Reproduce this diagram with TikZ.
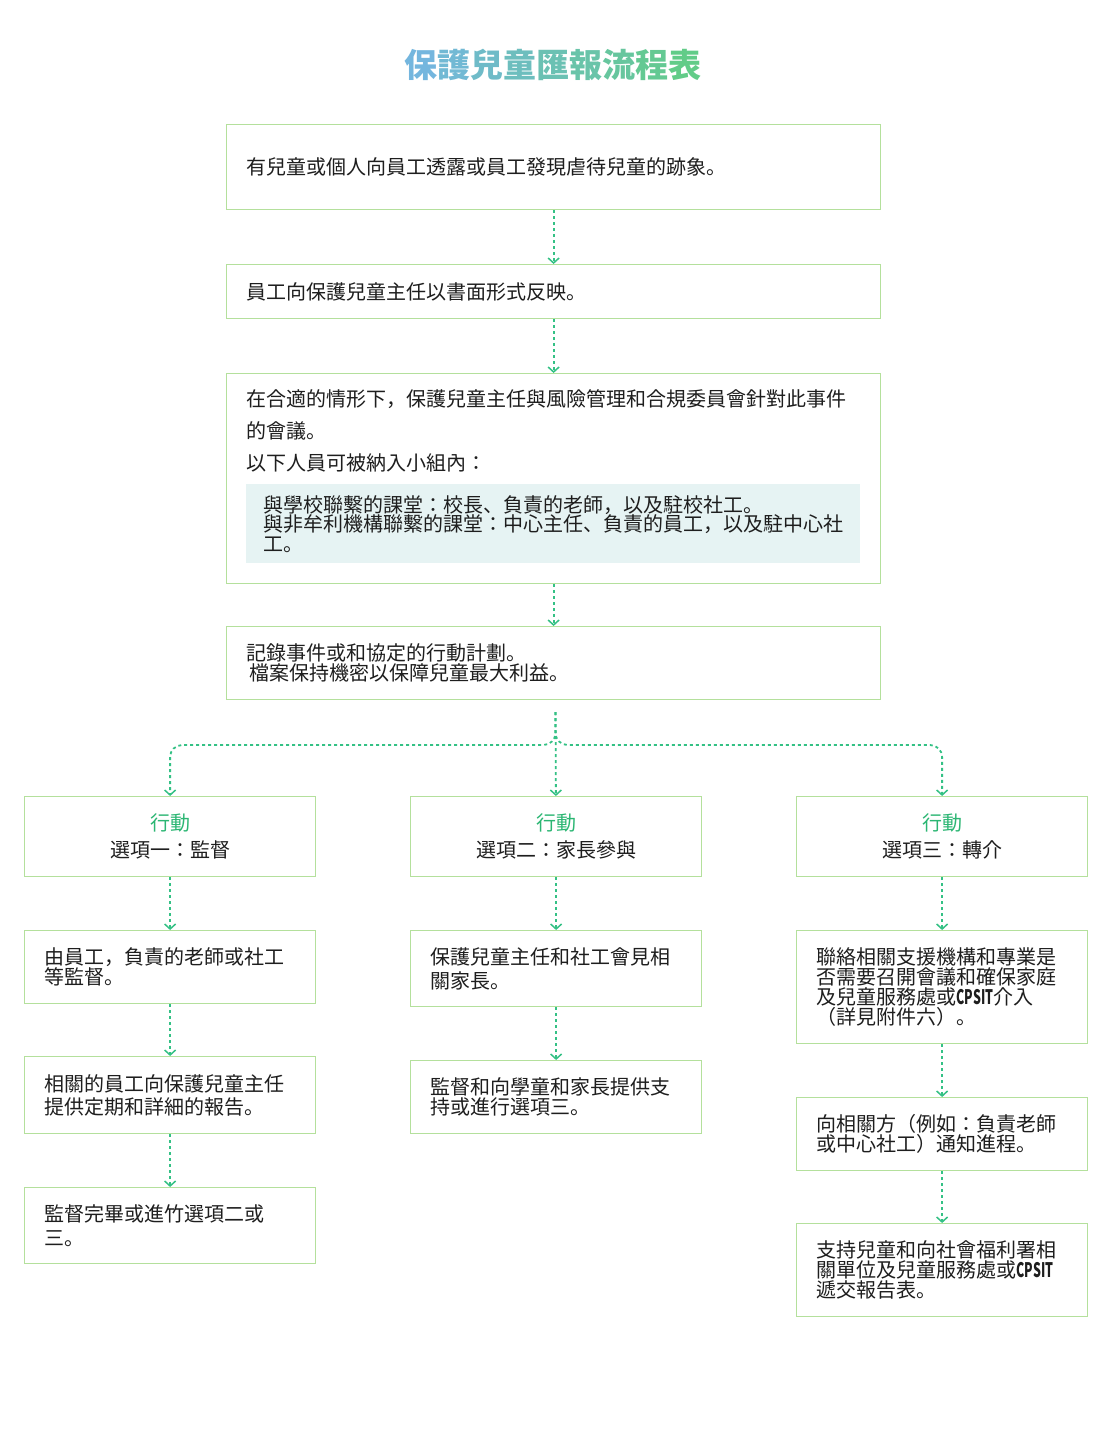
\documentclass[tikz,border=0pt]{standalone}
\usepackage{fontspec}
\setmainfont{Noto Sans CJK JP}
\usepackage{xcolor}
\usetikzlibrary{arrows.meta}
\definecolor{ink}{HTML}{1E1E1E}
\definecolor{boxline}{HTML}{B4E09C}
\definecolor{arrowgreen}{HTML}{34C185}
\definecolor{act}{HTML}{2BB673}
\definecolor{shade}{HTML}{E6F3F3}
\definecolor{titleA}{HTML}{74B6DE}
\definecolor{titleB}{HTML}{62CC88}
\newcommand\tchar[2]{\textcolor{titleB!#1!titleA}{#2}}
\newcommand\cpsit{\scalebox{0.62}[1]{\bfseries CPSIT}}
\tikzset{
  box/.style={draw=boxline, line width=1.2pt, anchor=north west, inner xsep=20pt, inner ysep=0pt,
    align=left, text=ink, font=\fontsize{20}{20}\selectfont},
  widebox/.style={box, text width=614pt},
  colbox/.style={box, text width=251pt},
  actbox/.style={colbox, align=center, minimum height=80pt, font=\fontsize{20}{27}\selectfont},
  shadebox/.style={fill=shade, anchor=north west, inner xsep=17pt, inner ysep=0pt, text width=580pt,
    minimum height=79pt, align=left, text=ink, font=\fontsize{20}{19.5}\selectfont},
  flowline/.style={draw=arrowgreen, line width=1.8pt, dash pattern=on 3pt off 3pt,
    -{Straight Barb[length=5pt,width=11pt,line width=1.5pt]}},
  titletext/.style={font=\fontsize{33}{33}\selectfont\bfseries}
}
\begin{document}
\begin{tikzpicture}[x=1pt,y=-1pt]
  \fill[white] (0,0) rectangle (1107,1440);
  \useasboundingbox (0,0) rectangle (1107,1440);

  \node[titletext] (title) at (553,65) {\tchar{0}{保}\tchar{12}{護}\tchar{25}{兒}\tchar{37}{童}\tchar{50}{匯}\tchar{62}{報}\tchar{75}{流}\tchar{87}{程}\tchar{100}{表}};

  % main steps
  \node[widebox, minimum height=85pt] (s1) at (226,124) {有兒童或個人向員工透露或員工發現虐待兒童的跡象。};
  \node[widebox, minimum height=54pt] (s2) at (226,264) {員工向保護兒童主任以書面形式反映。};
  \node[widebox, minimum height=210pt] (s3) at (226,373) {};
  \node[anchor=west, align=left, text=ink, inner sep=0pt, font=\fontsize{20}{32}\selectfont] (s3text) at (246,431)
    {在合適的情形下，保護兒童主任與風險管理和合規委員會針對此事件\\的會議。\\以下人員可被納入小組內：};
  \node[shadebox] (s3list) at (246,484)
    {與學校聯繫的課堂：校長、負責的老師，以及駐校社工。\\與非牟利機構聯繫的課堂：中心主任、負責的員工，以及駐中心社\\工。};
  \node[widebox, minimum height=73pt] (s4) at (226,626) {記錄事件或和協定的行動計劃。\\\hspace*{3pt}檔案保持機密以保障兒童最大利益。};

  \draw[flowline] (s1) -- (s2);
  \draw[flowline] (s2) -- (s3);
  \draw[flowline] (s3) -- (s4);

  % three options
  \node[actbox] (a1) at (24,796) {\textcolor{act}{行動}\\選項一：監督};
  \node[actbox] (a2) at (410,796) {\textcolor{act}{行動}\\選項二：家長參與};
  \node[actbox] (a3) at (796,796) {\textcolor{act}{行動}\\選項三：轉介};

  \coordinate (stem) at (555.5,712);
  \coordinate (fork) at (555.5,745);
  \draw[flowline, rounded corners=12pt] (stem) -- (fork) -| (a1);
  \draw[flowline, rounded corners=12pt] (stem) -- (fork) -| (a3);
  \draw[flowline] (stem) -- (a2);

  \node[colbox, minimum height=73pt] (b1) at (24,930) {由員工，負責的老師或社工\\等監督。};
  \node[colbox, minimum height=77pt, font=\fontsize{20}{23}\selectfont] (c1) at (24,1056) {相關的員工向保護兒童主任\\提供定期和詳細的報告。};
  \node[colbox, minimum height=76pt, font=\fontsize{20}{24}\selectfont] (d1) at (24,1187) {監督完畢或進竹選項二或\\三。};

  \node[colbox, minimum height=76pt, font=\fontsize{20}{24}\selectfont] (b2) at (410,930) {保護兒童主任和社工會見相\\關家長。};
  \node[colbox, minimum height=73pt] (c2) at (410,1060) {監督和向學童和家長提供支\\持或進行選項三。};

  \node[colbox, minimum height=113pt] (b3) at (796,930) {聯絡相關支援機構和專業是\\否需要召開會議和確保家庭\\及兒童服務處或\cpsit 介入\\（詳見附件六）。};
  \node[colbox, minimum height=73pt] (c3) at (796,1097) {向相關方（例如：負責老師\\或中心社工）通知進程。};
  \node[colbox, minimum height=93pt] (d3) at (796,1223) {支持兒童和向社會福利署相\\關單位及兒童服務處或\cpsit\\遞交報告表。};

  \draw[flowline] (a1) -- (b1);
  \draw[flowline] (b1) -- (c1);
  \draw[flowline] (c1) -- (d1);
  \draw[flowline] (a2) -- (b2);
  \draw[flowline] (b2) -- (c2);
  \draw[flowline] (a3) -- (b3);
  \draw[flowline] (b3) -- (c3);
  \draw[flowline] (c3) -- (d3);
\end{tikzpicture}
\end{document}
